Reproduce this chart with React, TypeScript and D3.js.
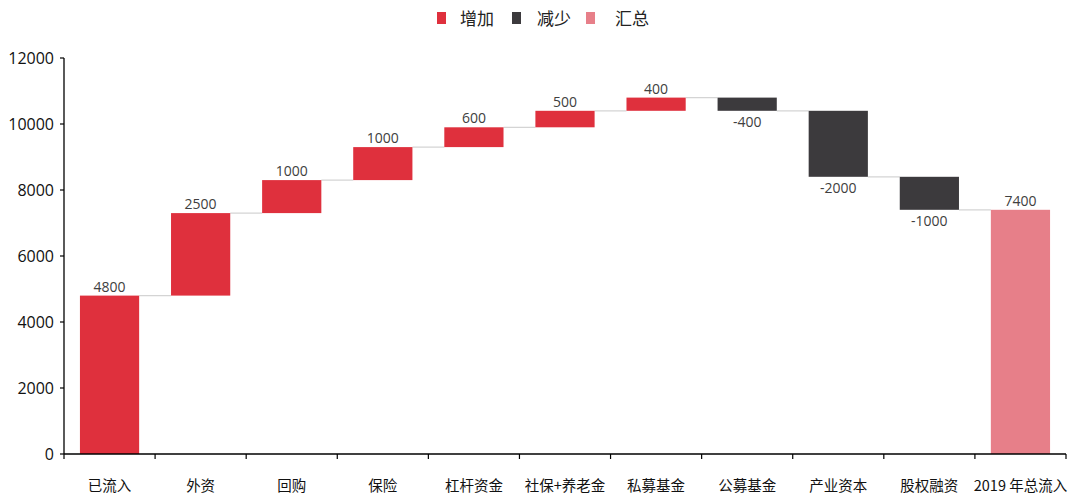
import React from "react";
import * as d3 from "d3";

const categories = ["已流入", "外资", "回购", "保险", "杠杆资金", "社保+养老金", "私募基金", "公募基金", "产业资本", "股权融资", "2019 年总流入"];
const changes = [4800, 2500, 1000, 1000, 600, 500, 400, -400, -2000, -1000, 7400];
const yTicks = [0, 2000, 4000, 6000, 8000, 10000, 12000];
const legendItems = [
  { label: "增加", color: "#df303d" },
  { label: "减少", color: "#3c3a3d" },
  { label: "汇总", color: "#e77f89" },
];

const W = 1080, H = 503;
const left = 64, right = 1066, top = 58, bottom = 454;
const FONT = "'Noto Sans CJK SC', 'Noto Sans', sans-serif";

export default function App() {
  const x = d3.scaleBand<string>().domain(categories).range([left, right]).paddingInner(0.35).paddingOuter(0.175);
  const y = d3.scaleLinear().domain([0, 12000]).range([bottom, top]);
  const bw = x.bandwidth();

  let cum = 0;
  const bars = changes.map((v, i) => {
    const isTotal = i === changes.length - 1;
    let start: number, end: number, kind: string;
    if (i === 0 || isTotal) {
      start = 0; end = v; kind = isTotal ? "total" : "inc";
      cum = v;
    } else {
      start = cum; end = cum + v; kind = v >= 0 ? "inc" : "dec";
      cum = end;
    }
    return { cat: categories[i], v, start, end, kind, level: end };
  });
  const colorOf = (k: string) => k === "inc" ? legendItems[0].color : k === "dec" ? legendItems[1].color : legendItems[2].color;

  const boundaries = d3.range(categories.length + 1).map(i => left + i * (right - left) / categories.length);

  const legendSq = [437, 512, 586];
  const legendTx = [460, 537, 615];

  return (
    <svg width={W} height={H} style={{ display: "block", position: "absolute", left: 0, top: 0, background: "#fff" }} fontFamily={FONT}>
      {legendItems.map((it, i) => (
        <g key={it.label}>
          <rect x={legendSq[i]} y={12} width={9} height={12} fill={it.color} />
          <text x={legendTx[i]} y={25} fontSize={17} fill="#222">{it.label}</text>
        </g>
      ))}

      {bars.slice(0, -1).map((b, i) => {
        const x1 = (x(b.cat) as number) + bw;
        const x2 = x(categories[i + 1]) as number;
        return <line key={"c" + i} x1={x1} x2={x2} y1={y(b.level)} y2={y(b.level)} stroke="#d4d4d4" strokeWidth={1.2} />;
      })}

      {bars.map(b => {
        const y0 = y(Math.max(b.start, b.end));
        const y1 = y(Math.min(b.start, b.end));
        return <rect key={b.cat} x={x(b.cat)} y={y0} width={bw} height={y1 - y0} fill={colorOf(b.kind)} />;
      })}

      {bars.map(b => {
        const cx = (x(b.cat) as number) + bw / 2;
        const pos = b.v >= 0;
        const ty = pos ? y(Math.max(b.start, b.end)) - 4 : y(Math.min(b.start, b.end)) + 16;
        return <text key={"l" + b.cat} x={cx} y={ty} textAnchor="middle" fontSize={14} fill="#404040" fontFamily="'Open Sans', sans-serif">{b.v}</text>;
      })}

      <line x1={left} x2={left} y1={top} y2={bottom} stroke="#000" strokeWidth={1.3} />
      {yTicks.map(t => (
        <g key={t}>
          <line x1={left - 4} x2={left} y1={y(t)} y2={y(t)} stroke="#000" strokeWidth={1.2} />
          <text x={left - 10} y={y(t) + 6} textAnchor="end" fontSize={16} fill="#111" fontFamily="'Open Sans', sans-serif">{t}</text>
        </g>
      ))}

      <line x1={left} x2={right} y1={bottom} y2={bottom} stroke="#000" strokeWidth={1.3} />
      {boundaries.map((bx, i) => (
        <line key={"t" + i} x1={bx} x2={bx} y1={bottom} y2={bottom + 5} stroke="#000" strokeWidth={1.2} />
      ))}
      {categories.map(c => (
        <text key={"x" + c} x={(x(c) as number) + bw / 2} y={491} textAnchor="middle" fontSize={14.5} fill="#111">{c}</text>
      ))}
    </svg>
  );
}
